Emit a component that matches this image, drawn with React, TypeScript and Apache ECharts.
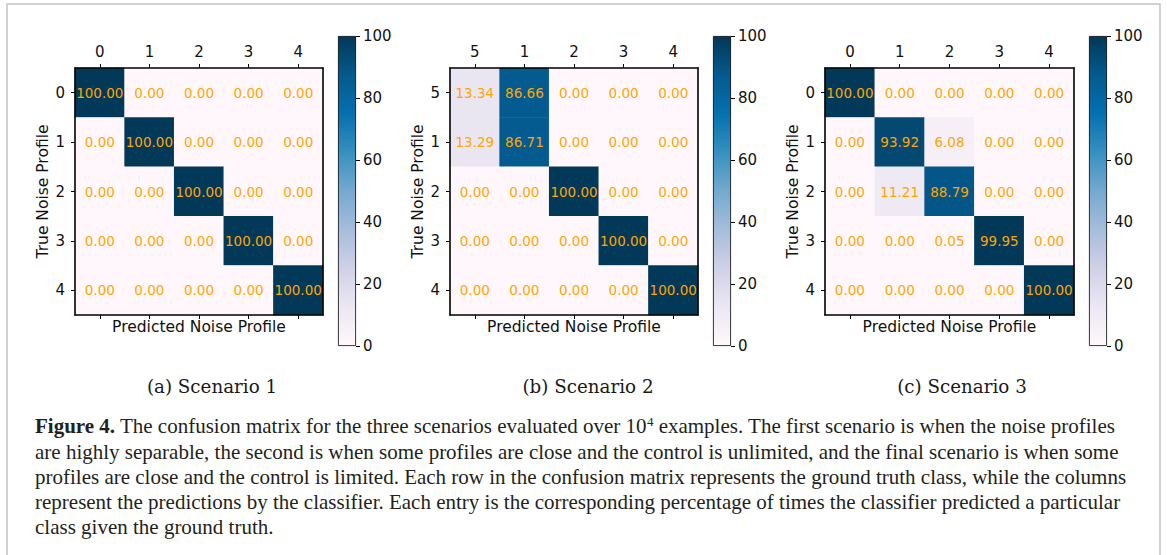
import React, { useEffect, useRef } from "react";
import * as echarts from "echarts";

const labels1 = ["0", "1", "2", "3", "4"];
const labels2 = ["5", "1", "2", "3", "4"];
const labels3 = ["0", "1", "2", "3", "4"];

const matrix1 = [
  [100, 0, 0, 0, 0],
  [0, 100, 0, 0, 0],
  [0, 0, 100, 0, 0],
  [0, 0, 0, 100, 0],
  [0, 0, 0, 0, 100],
];
const matrix2 = [
  [13.34, 86.66, 0, 0, 0],
  [13.29, 86.71, 0, 0, 0],
  [0, 0, 100, 0, 0],
  [0, 0, 0, 100, 0],
  [0, 0, 0, 0, 100],
];
const matrix3 = [
  [100, 0, 0, 0, 0],
  [0, 93.92, 6.08, 0, 0],
  [0, 11.21, 88.79, 0, 0],
  [0, 0, 0.05, 99.95, 0],
  [0, 0, 0, 0, 100],
];

const colorbarMin = 0;
const colorbarMax = 100;
const colorbarStep = 20;

const panelCaptions = ["(a) Scenario 1", "(b) Scenario 2", "(c) Scenario 3"];
const xName = "Predicted Noise Profile";
const yName = "True Noise Profile";

const captionLines = [
  "{b|Figure 4.} The confusion matrix for the three scenarios evaluated over 10{sup|4} examples. The first scenario is when the noise profiles",
  "are highly separable, the second is when some profiles are close and the control is unlimited, and the final scenario is when some",
  "profiles are close and the control is limited. Each row in the confusion matrix represents the ground truth class, while the columns",
  "represent the predictions by the classifier. Each entry is the corresponding percentage of times the classifier predicted a particular",
  "class given the ground truth.",
];

const PuBu = [
  "#fff7fb",
  "#ece7f2",
  "#d0d1e6",
  "#a6bddb",
  "#74a9cf",
  "#3690c0",
  "#0570b0",
  "#045a8d",
  "#023858",
];

function toCells(m: number[][]) {
  const out: number[][] = [];
  m.forEach((row, r) => row.forEach((v, c) => out.push([c, r, v])));
  return out;
}

export default function App() {
  const ref = useRef<HTMLDivElement>(null);
  useEffect(() => {
    if (!ref.current) return;
    const chart = echarts.init(ref.current, null, { renderer: "svg" });

    const panels = [
      { labels: labels1, m: matrix1, left: 75, cb: 338, w: 248 },
      { labels: labels2, m: matrix2, left: 450, cb: 713, w: 248 },
      { labels: labels3, m: matrix3, left: 825, cb: 1089, w: 249 },
    ];
    const tickFont = { fontFamily: "DejaVu Sans", fontSize: 15, color: "#111" };
    const nameFont = { fontFamily: "DejaVu Sans", fontSize: 15.5, color: "#111" };
    const grids: any[] = [];
    const xAxes: any[] = [];
    const yAxes: any[] = [];
    const series: any[] = [];

    panels.forEach((p) => {
      grids.push({ left: p.left, top: 68, width: p.w, height: 247 });
    });
    panels.forEach((p) => {
      grids.push({ left: p.cb, top: 36, width: 18, height: 310 });
    });

    panels.forEach((p, i) => {
      xAxes.push({
        type: "category",
        gridIndex: i,
        position: "top",
        data: p.labels,
        z: 10,
        axisLine: { show: true, lineStyle: { color: "#000", width: 1.6 } },
        axisTick: { show: true, alignWithLabel: true, length: 4, lineStyle: { color: "#000", width: 1 } },
        axisLabel: { ...tickFont, margin: 9, interval: 0 },
        splitLine: { show: false },
      });
      xAxes.push({
        type: "category",
        gridIndex: i,
        position: "bottom",
        data: p.labels,
        z: 10,
        name: xName,
        nameLocation: "middle",
        nameGap: 4,
        nameTextStyle: { ...nameFont },
        axisLine: { show: true, lineStyle: { color: "#000", width: 1.6 } },
        axisTick: { show: true, alignWithLabel: true, length: 4, lineStyle: { color: "#000", width: 1 } },
        axisLabel: { show: false },
        splitLine: { show: false },
      });
      yAxes.push({
        type: "category",
        gridIndex: i,
        position: "left",
        inverse: true,
        data: p.labels,
        z: 10,
        name: yName,
        nameLocation: "middle",
        nameGap: 24,
        nameTextStyle: { ...nameFont },
        axisLine: { show: true, lineStyle: { color: "#000", width: 1.6 } },
        axisTick: { show: true, alignWithLabel: true, length: 4, lineStyle: { color: "#000", width: 1 } },
        axisLabel: { ...tickFont, margin: 10, interval: 0 },
        splitLine: { show: false },
      });
      yAxes.push({
        type: "category",
        gridIndex: i,
        position: "right",
        inverse: true,
        data: p.labels,
        z: 10,
        axisLine: { show: true, lineStyle: { color: "#000", width: 1.6 } },
        axisTick: { show: false },
        axisLabel: { show: false },
        splitLine: { show: false },
      });
    });

    panels.forEach((p, i) => {
      xAxes.push({
        type: "category",
        gridIndex: 3 + i,
        data: [""],
        show: false,
      });
      yAxes.push({
        type: "value",
        gridIndex: 3 + i,
        position: "right",
        min: colorbarMin,
        max: colorbarMax,
        interval: colorbarStep,
        z: 10,
        axisLine: { show: false },
        axisTick: { show: true, length: 4, lineStyle: { color: "#000", width: 1 } },
        axisLabel: { ...tickFont, margin: 7 },
        splitLine: { show: false },
      });
    });

    panels.forEach((p, i) => {
      series.push({
        type: "heatmap",
        xAxisIndex: 2 * i,
        yAxisIndex: 2 * i,
        data: toCells(p.m),
        label: {
          show: true,
          color: "#FFA500",
          fontFamily: "DejaVu Sans",
          fontSize: 13.5,
          formatter: (d: any) => Number(d.value[2]).toFixed(2),
        },
        itemStyle: { borderWidth: 0 },
        emphasis: { disabled: true },
      });
    });

    const stops = PuBu.map((c, k) => ({ offset: k / (PuBu.length - 1), color: c }));
    panels.forEach((p, i) => {
      series.push({
        type: "bar",
        xAxisIndex: 6 + i,
        yAxisIndex: 6 + i,
        data: [colorbarMax],
        barWidth: "100%",
        silent: true,
        itemStyle: {
          color: new echarts.graphic.LinearGradient(0, 1, 0, 0, stops),
          borderColor: "#000",
          borderWidth: 0.8,
        },
      });
    });

    const captionCenters = [212, 588, 962];
    const graphics: any[] = [
      {
        type: "rect",
        shape: { x: 7, y: 4, width: 1153, height: 600 },
        style: { fill: "none", stroke: "#c4c4c4", lineWidth: 1.5 },
        silent: true,
      },
    ];
    panelCaptions.forEach((t, i) => {
      graphics.push({
        type: "text",
        x: captionCenters[i],
        y: 386,
        style: {
          text: t,
          fontFamily: "DejaVu Serif",
          fontSize: 18.3,
          fill: "#1a1a1a",
          align: "center",
          verticalAlign: "middle",
        },
      });
    });
    const lineYs = [426, 452, 477, 502, 527];
    captionLines.forEach((t, i) => {
      graphics.push({
        type: "text",
        x: 35,
        y: lineYs[i],
        style: {
          text: t,
          fontFamily: "Liberation Serif",
          fontSize: 21,
          fill: "#231f20",
          align: "left",
          verticalAlign: "middle",
          rich: {
            b: { fontFamily: "Liberation Serif", fontSize: 21, fontWeight: "bold", fill: "#231f20" },
            sup: { fontFamily: "Liberation Serif", fontSize: 13, fill: "#231f20", verticalAlign: "top", padding: [0, 0, 9, 0] },
          },
        },
      });
    });

    chart.setOption({
      animation: false,
      backgroundColor: "#fff",
      textStyle: { fontFamily: "DejaVu Sans" },
      grid: grids,
      xAxis: xAxes,
      yAxis: yAxes,
      visualMap: {
        type: "continuous",
        show: false,
        min: colorbarMin,
        max: colorbarMax,
        seriesIndex: [0, 1, 2],
        inRange: { color: PuBu },
      },
      series,
      graphic: graphics,
    });
    return () => chart.dispose();
  }, []);
  return (
    <div
      ref={ref}
      style={{ position: "fixed", left: 0, top: 0, width: 1167, height: 555, background: "#fff" }}
    />
  );
}
